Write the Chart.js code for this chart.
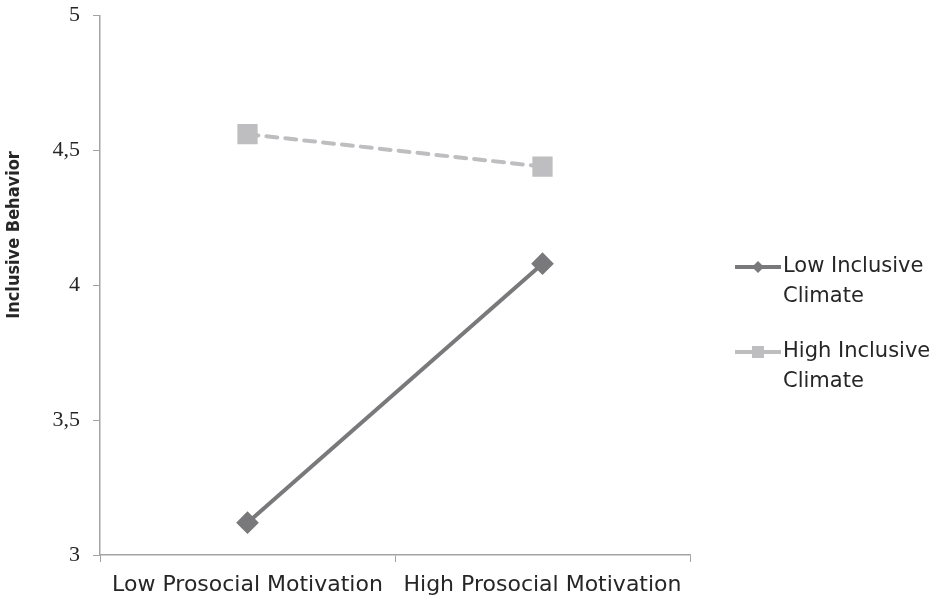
<!DOCTYPE html>
<html>
<head>
<meta charset="utf-8">
<script src="https://cdn.jsdelivr.net/npm/chart.js@4/dist/chart.umd.min.js"></script>
<style>
  html, body { margin: 0; padding: 0; background: #fff; }
  #wrap { width: 935px; height: 597px; }
</style>
</head>
<body>
<div id="wrap"><canvas id="chart" width="935" height="597"></canvas></div>
<script>
const categories = ['Low Prosocial Motivation', 'High Prosocial Motivation'];
const lowClimate = [3.12, 4.08];
const highClimate = [4.56, 4.44];
const seriesNames = [['Low Inclusive', 'Climate'], ['High Inclusive', 'Climate']];
const yTicks = [3, 3.5, 4, 4.5, 5];
const yTitle = 'Inclusive Behavior';

const sansFont = '"DejaVu Sans", sans-serif';
const axisGrey = '#a3a3a3';
const darkLine = '#79797c';
const lightLine = '#bebec0';
const textColor = '#262626';

// legend at the right with two-line labels, plus the y title
const sideLegend = {
  id: 'sideLegend',
  afterDraw(chart) {
    const ctx = chart.ctx;
    const rows = [267, 352];
    ctx.save();
    chart.data.datasets.forEach((ds, i) => {
      const y = rows[i];
      ctx.strokeStyle = ds.borderColor;
      ctx.lineWidth = 4;
      ctx.setLineDash([]);
      ctx.beginPath();
      ctx.moveTo(735, y);
      ctx.lineTo(781, y);
      ctx.stroke();
      ctx.fillStyle = ds.borderColor;
      ctx.beginPath();
      if (ds.pointStyle === 'rectRot') {
        ctx.moveTo(758, y - 6); ctx.lineTo(764, y); ctx.lineTo(758, y + 6); ctx.lineTo(752, y);
      } else {
        ctx.rect(752, y - 6, 12, 12);
      }
      ctx.closePath();
      ctx.fill();
      ctx.fillStyle = textColor;
      ctx.font = '21px ' + sansFont;
      ctx.textBaseline = 'middle';
      ctx.textAlign = 'left';
      ds.label.forEach((t, j) => ctx.fillText(t, 783, y + j * 30));
    });

    ctx.translate(14, 235);
    ctx.rotate(-Math.PI / 2);
    ctx.font = 'bold 18px "DejaVu Sans Condensed", "DejaVu Sans", sans-serif';
    ctx.textAlign = 'center';
    ctx.textBaseline = 'middle';
    ctx.fillText(yTitle, 0, 0);
    ctx.restore();
  }
};

new Chart(document.getElementById('chart'), {
  type: 'line',
  data: {
    labels: categories,
    datasets: [
      {
        label: seriesNames[0], data: lowClimate,
        borderColor: darkLine, backgroundColor: darkLine, borderWidth: 4,
        pointStyle: 'rectRot', pointRadius: 8.5, pointHoverRadius: 8.5
      },
      {
        label: seriesNames[1], data: highClimate,
        borderColor: lightLine, backgroundColor: lightLine, borderWidth: 4,
        borderDash: [11, 8], borderCapStyle: 'round',
        pointStyle: 'rect', pointRadius: 11.5, pointHoverRadius: 11.5
      }
    ]
  },
  options: {
    responsive: false,
    animation: false,
    layout: { padding: { top: 14, right: 245, left: 0, bottom: 0 } },
    plugins: { legend: { display: false }, tooltip: { enabled: false } },
    scales: {
      x: {
        offset: true,
        grid: { drawOnChartArea: false, color: axisGrey, tickLength: 7, offset: true },
        border: { color: axisGrey, width: 1.5 },
        ticks: { color: textColor, font: { family: sansFont, size: 22 }, padding: 10, maxRotation: 0 },
        afterFit(s) { s.height = 42; s.paddingLeft = 0; s.paddingRight = 0; }
      },
      y: {
        min: 3, max: 5,
        afterBuildTicks(s) { s.ticks = yTicks.map(v => ({ value: v })); },
        grid: { drawOnChartArea: false, color: axisGrey, tickLength: 7 },
        border: { color: axisGrey, width: 1.5 },
        ticks: {
          color: textColor, padding: 13,
          font: { family: '"Liberation Serif", "DejaVu Serif", serif', size: 22 },
          callback: v => String(v).replace('.', ',')
        },
        afterFit(s) { s.width = 100; s.paddingTop = 0; s.paddingBottom = 0; }
      }
    }
  },
  plugins: [sideLegend]
});
</script>
</body>
</html>
